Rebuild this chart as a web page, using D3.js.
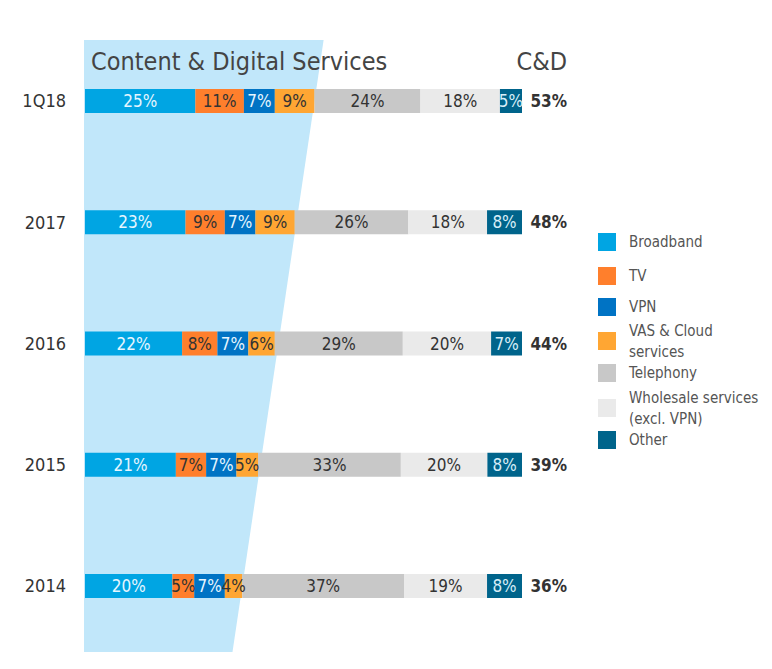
<!DOCTYPE html>
<html><head><meta charset="utf-8">
<script src="https://cdn.jsdelivr.net/npm/d3@7"></script>
<style>
html,body{margin:0;padding:0;background:#fff;}
svg{display:block;font-family:"DejaVu Sans Condensed","DejaVu Sans",sans-serif;font-stretch:condensed;}
</style></head>
<body>
<svg id="chart" width="772" height="669"></svg>
<script>
const categories = ["1Q18","2017","2016","2015","2014"];
const seriesNames = ["Broadband","TV","VPN","VAS & Cloud services","Telephony","Wholesale services (excl. VPN)","Other"];
const broadband = [25,23,22,21,20];
const tv = [11,9,8,7,5];
const vpn = [7,7,7,7,7];
const vas = [9,9,6,5,4];
const telephony = [24,26,29,33,37];
const wholesale = [18,18,20,20,19];
const other = [5,8,7,8,8];
const cdTotal = [53,48,44,39,36];
const legendLines = [["Broadband"],["TV"],["VPN"],["VAS & Cloud","services"],["Telephony"],["Wholesale services","(excl. VPN)"],["Other"]];

const colors = ["#00a5e3","#ff7f2c","#0073c4","#ffa633","#c8c8c8","#eaeaea","#00648b"];
const textColors = ["#e6f6ff","#333333","#e6f6ff","#333333","#333333","#333333","#d8eef8"];

const keys = ["b","t","v","a","p","w","o"];
const rows = categories.map((c,i)=>({cat:c,b:broadband[i],t:tv[i],v:vpn[i],a:vas[i],p:telephony[i],w:wholesale[i],o:other[i],cd:cdTotal[i]}));

const svg = d3.select("#chart");
const x = d3.scaleLinear().domain([0,1]).range([85,522]);
const y = d3.scalePoint().domain(categories).range([101,586]);
const barH = 24;

const stack = d3.stack().keys(keys).offset(d3.stackOffsetExpand);
const stacked = stack(rows);

// trapezoid: line through ends of C&D part (through VAS end) of first & last rows
const cdEnd = stacked[3];
const y0 = y(categories[0]), y1 = y(categories[categories.length-1]);
const xa = x(cdEnd[0][1]), xb = x(cdEnd[cdEnd.length-1][1]);
const slope = (xb - xa)/(y1 - y0);
const topY = 40, botY = 652;
const xTop = xa + slope*(topY - y0), xBot = xa + slope*(botY - y0);
svg.append("path")
  .attr("d", d3.line()([[84,topY],[xTop,topY],[xBot,botY],[84,botY]]) + "Z")
  .attr("fill","#c1e7fa");

svg.append("text").attr("x",91).attr("y",70).attr("font-size",25).attr("fill","#444")
  .text("Content & Digital Services");
svg.append("text").attr("x",567).attr("y",70).attr("font-size",25).attr("fill","#444")
  .attr("text-anchor","end").text("C&D");

// bars
const layers = svg.append("g").selectAll("g").data(stacked).join("g")
  .attr("fill",(d,i)=>colors[i]);
layers.selectAll("rect").data(d=>d).join("rect")
  .attr("x",d=>x(d[0])).attr("width",d=>x(d[1])-x(d[0]))
  .attr("y",d=>y(d.data.cat)-barH/2).attr("height",barH);

// labels
stacked.forEach((layer,li)=>{
  svg.append("g").selectAll("text").data(layer).join("text")
    .attr("x",d=>(x(d[0])+x(d[1]))/2)
    .attr("y",d=>y(d.data.cat))
    .attr("dy","0.36em")
    .attr("text-anchor","middle")
    .attr("font-size",17)
    .attr("fill",textColors[li])
    .text(d=>d.data[keys[li]]+"%");
});

// category labels
svg.append("g").selectAll("text").data(categories).join("text")
  .attr("x",66).attr("y",d=>y(d)).attr("dy","0.36em").attr("text-anchor","end")
  .attr("font-size",18).attr("fill","#333").text(d=>d);

// C&D totals
svg.append("g").selectAll("text").data(rows).join("text")
  .attr("x",567).attr("y",d=>y(d.cat)).attr("dy","0.36em").attr("text-anchor","end")
  .attr("font-size",17).attr("font-weight","bold").attr("fill","#333").text(d=>d.cd+"%");

// legend
const legY = [242,276,307,341,373,408,440];
const lg = svg.append("g").selectAll("g").data(seriesNames).join("g")
  .attr("transform",(d,i)=>`translate(598,${legY[i]})`);
lg.append("rect").attr("x",0).attr("y",-9).attr("width",18).attr("height",18)
  .attr("fill",(d,i)=>colors[i]);
lg.each(function(d,i){
  const lines = legendLines[i];
  const g = d3.select(this);
  lines.forEach((ln,j)=>{
    g.append("text").attr("x",31)
      .attr("y",(j-(lines.length-1)/2)*21)
      .attr("dy","0.36em").attr("font-size",15).attr("fill","#555").text(ln);
  });
});
</script>
</body></html>
